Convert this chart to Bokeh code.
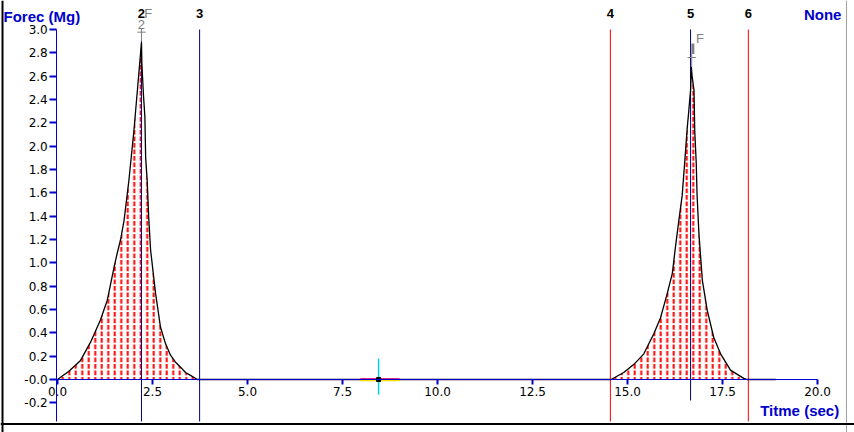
from bokeh.plotting import figure
from bokeh.models import Range1d, LinearAxis, FixedTicker, PrintfTickFormatter, Span, ColumnDataSource
from bokeh.core.properties import value
from bokeh.embed import file_html
from bokeh.resources import INLINE

# ---- data ----
time_s = [0.0, 0.3, 0.6, 0.87, 1.13, 1.31, 1.5, 1.57, 1.66, 1.75, 1.88, 2.01, 2.14, 2.21,
          2.22, 2.26, 2.3, 2.32, 2.36, 2.4, 2.45, 2.58, 2.71, 2.84, 2.97, 3.1, 3.24, 3.37,
          3.5, 3.68,
          14.57, 14.9, 15.17, 15.43, 15.69, 15.87, 16.04, 16.18, 16.26, 16.35, 16.44, 16.51,
          16.57, 16.61, 16.66, 16.68, 16.7, 16.75, 16.77, 16.81, 16.83, 16.88, 16.97, 17.1,
          17.27, 17.45, 17.71, 18.06, 18.15, 18.9]
force_mg = [0.0, 0.07, 0.16, 0.32, 0.51, 0.68, 0.98, 1.08, 1.2, 1.36, 1.71, 2.13, 2.62, 2.89,
            2.71, 2.45, 2.25, 1.90, 1.71, 1.39, 1.11, 0.74, 0.45, 0.31, 0.21, 0.15, 0.105, 0.06,
            0.035, 0.0,
            0.0, 0.06, 0.13, 0.22, 0.39, 0.53, 0.73, 0.91, 1.13, 1.36, 1.58, 1.88,
            2.15, 2.29, 2.48, 2.68, 2.6, 2.48, 2.13, 1.85, 1.59, 1.25, 0.85, 0.59,
            0.36, 0.22, 0.08, 0.01, 0.0, 0.0]

x_ticks = [0.0, 2.5, 5.0, 7.5, 10.0, 12.5, 15.0, 17.5, 20.0]
y_ticks = [-0.2, 0.0, 0.2, 0.4, 0.6, 0.8, 1.0, 1.2, 1.4, 1.6, 1.8, 2.0, 2.2, 2.4, 2.6, 2.8, 3.0]

marker_names = ["2", "3", "4", "5", "6"]
marker_times = [2.21, 3.74, 14.55, 16.66, 18.18]
marker_colors = ["#000080", "#000080", "#ff0000", "#000080", "#ff0000"]
marker_tops = [2.91, 3.0, 3.0, 3.0, 3.0]
marker_bottoms = [-0.36, -0.36, -0.36, -0.18, -0.36]

peak_times = [2.21, 16.69]
peak_levels = [2.977, 2.76]
peak_f_x = [2.39, 16.91]
peak_f_y = [3.137, 2.92]

cursor_t = 8.45
cursor_x_span = (7.97, 9.0)
cursor_y_span = (-0.13, 0.18)

BLUE = "#0000cc"
FONT = "Liberation Sans"
TICK_FONT = "DejaVu Sans"

p = figure(width=854, height=432, output_backend="svg", toolbar_location=None,
           x_range=Range1d(-1.5, 20.974), y_range=Range1d(-0.4543, 3.2486),
           x_axis_type=None, y_axis_type=None, min_border=0)
p.outline_line_color = None
p.background_fill_color = "white"
p.border_fill_color = "white"

xaxis = LinearAxis(fixed_location=0, bounds=(0, 20), ticker=FixedTicker(ticks=x_ticks),
                   formatter=PrintfTickFormatter(format="%.1f"))
yaxis = LinearAxis(fixed_location=-0.02, bounds=(-0.36, 3.0), ticker=FixedTicker(ticks=y_ticks),
                   formatter=PrintfTickFormatter(format="%.1f"),
                   major_label_overrides={0: "-0.0"})
for ax, tout, stand in ((xaxis, 5, 3), (yaxis, 7, 2)):
    ax.axis_line_color = BLUE
    ax.axis_line_width = 1
    ax.major_tick_line_color = BLUE
    ax.major_tick_line_width = 2
    ax.major_tick_in = 0
    ax.major_tick_out = tout
    ax.minor_tick_line_color = None
    ax.major_label_standoff = stand
    ax.major_label_text_font = TICK_FONT
    ax.major_label_text_font_size = "12px"
    ax.major_label_text_color = "black"
p.add_layout(xaxis, "below")
p.add_layout(yaxis, "left")

# red dashed vertical hatching under the curve
src = ColumnDataSource(dict(t=time_s, f=force_mg))
p.varea(x="t", y1=0, y2="f", source=src, fill_color=None, hatch_pattern="vertical_dash",
        hatch_color="#ff0000", hatch_weight=2, hatch_scale=6.5)

p.segment(x0=marker_times, y0=marker_bottoms, x1=marker_times, y1=marker_tops,
          line_color=marker_colors, line_width=1)

p.line("t", "f", source=src, line_color="black", line_width=1.3)

# peak markers (gray)
GRAY = "#808080"
p.segment(x0=[t - 0.11 for t in peak_times], y0=peak_levels,
          x1=[t + 0.11 for t in peak_times], y1=peak_levels, line_color=GRAY, line_width=1)
p.segment(x0=peak_times, y0=[v + 0.03 for v in peak_levels],
          x1=peak_times, y1=[v - 0.08 for v in peak_levels], line_color=GRAY, line_width=1)
p.segment(x0=[16.72], y0=[2.79], x1=[16.72], y1=[2.88], line_color=GRAY, line_width=3)
p.text(x=peak_f_x, y=peak_f_y, text=["F", "F"], text_color=GRAY, text_align="center",
       text_baseline="middle", text_font=value(FONT), text_font_size="13px")
p.text(x=[2.21], y=[3.045], text=["2"], text_color=GRAY, text_align="center",
       text_baseline="middle", text_font=value(FONT), text_font_size="13px")

# marker labels
p.text(x=marker_times, y=[3.137] * len(marker_times), text=marker_names, text_color="black",
       text_align="center", text_baseline="middle", text_font=value(FONT),
       text_font_style="bold", text_font_size="13px")

# cursor cross
p.segment(x0=[cursor_x_span[0]], y0=[0.006], x1=[cursor_x_span[1]], y1=[0.006],
          line_color="#e0208a", line_width=1.5)
p.segment(x0=[cursor_x_span[0]], y0=[-0.008], x1=[cursor_x_span[1]], y1=[-0.008],
          line_color="#f0e000", line_width=1.5)
p.segment(x0=[cursor_t], y0=[cursor_y_span[0]], x1=[cursor_t], y1=[cursor_y_span[1]],
          line_color="#00d0e0", line_width=1.5)
p.scatter(x=[cursor_t], y=[0.0], marker="square", size=4, color="black")

# titles
p.text(x=[-1.42], y=[3.11], text=["Forec (Mg)"], text_color=BLUE, text_align="left",
       text_baseline="middle", text_font=value(FONT), text_font_style="bold",
       text_font_size="15px")
p.text(x=[20.63], y=[3.13], text=["None"], text_color=BLUE, text_align="right",
       text_baseline="middle", text_font=value(FONT), text_font_style="bold",
       text_font_size="15px")
p.text(x=[20.57], y=[-0.266], text=["Titme (sec)"], text_color=BLUE, text_align="right",
       text_baseline="middle", text_font=value(FONT), text_font_style="bold",
       text_font_size="15px")

# frame borders
p.add_layout(Span(location=20.763, dimension="height", line_color="#a0a0a0", line_width=1))
p.add_layout(Span(location=-1.447, dimension="height", line_color="black", line_width=2))
p.add_layout(Span(location=-0.381, dimension="width", line_color="black", line_width=2))

open("out.html", "w").write(file_html(p, INLINE))
